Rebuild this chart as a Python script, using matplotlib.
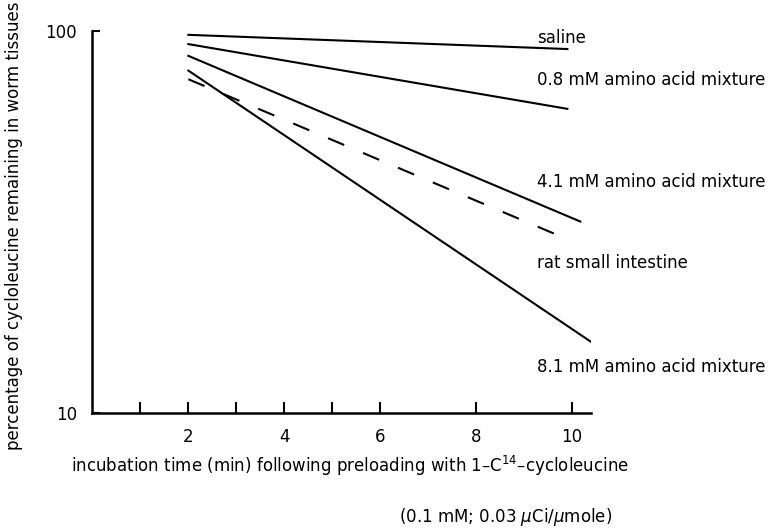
import numpy as np
import matplotlib.pyplot as plt

plt.rcParams['font.family'] = ['DejaVu Sans']

# endpoints of each (straight on log scale) line: time (min), percentage remaining
saline_t = [2.0, 9.9]
saline_y = [97.6, 89.6]
mm08_t = [2.0, 9.9]
mm08_y = [92.3, 62.5]
mm41_t = [2.0, 10.17]
mm41_y = [86.0, 31.7]
rat_t = [2.0, 9.9]
rat_y = [74.7, 28.5]
mm81_t = [2.0, 10.38]
mm81_y = [78.7, 15.4]

labels = ['saline', '0.8 mM amino acid mixture', '4.1 mM amino acid mixture',
          'rat small intestine', '8.1 mM amino acid mixture']
label_y = [95.9, 74.4, 40.3, 24.7, 13.2]

xticks = [1, 2, 3, 4, 5, 6, 8, 10]
xticklabels = ['', '2', '', '4', '', '6', '8', '10']

fig = plt.figure(figsize=(7.7, 5.31), dpi=100)
ax = fig.add_axes([0.12, 0.222, 0.648, 0.72])

lw = 1.5
ax.plot(saline_t, saline_y, color='black', lw=lw)
ax.plot(mm08_t, mm08_y, color='black', lw=lw)
ax.plot(mm41_t, mm41_y, color='black', lw=lw)
ax.plot(mm81_t, mm81_y, color='black', lw=lw)
ax.plot(rat_t, rat_y, color='black', lw=lw, dashes=(8.4, 9.8))

for lab, ly in zip(labels, label_y):
    ax.text(9.26, ly, lab, fontsize=12, ha='left', va='center', clip_on=False)

ax.set_yscale('log')
ax.set_ylim(10, 100)
ax.set_xlim(0, 10.4)
ax.set_yticks([10, 100])
ax.set_yticklabels(['10', '100'])
ax.yaxis.set_minor_locator(plt.NullLocator())
ax.set_xticks(xticks)
ax.set_xticklabels(xticklabels)

ax.spines['top'].set_visible(False)
ax.spines['right'].set_visible(False)
ax.spines['left'].set_linewidth(1.8)
ax.spines['bottom'].set_linewidth(1.8)
ax.tick_params(axis='x', direction='in', length=8, width=1.5, pad=11, labelsize=12)
ax.tick_params(axis='y', direction='in', length=6, width=1.5, pad=11, labelsize=12)

ax.set_ylabel('percentage of cycloleucine remaining in worm tissues', fontsize=12)
ax.yaxis.set_label_coords(-0.14, 0.49)

fig.text(0.092, 0.122, 'incubation time (min) following preloading with 1\u2013C$^{14}$\u2013cycloleucine',
         fontsize=12, ha='left', va='center')
fig.text(0.518, 0.026, '(0.1 mM; 0.03 $\\mu$Ci/$\\mu$mole)', fontsize=12, ha='left', va='center')

fig.savefig('out.png', dpi=100)
